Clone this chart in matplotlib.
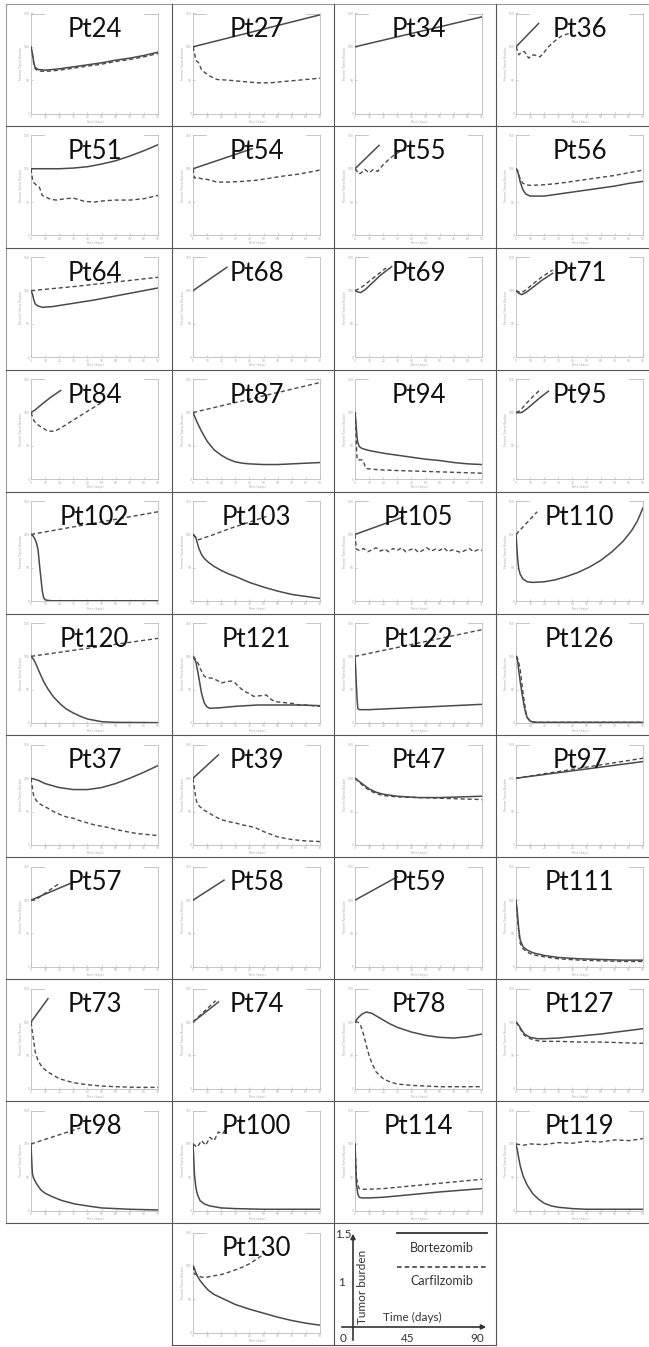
import matplotlib.pyplot as plt

W, H = 649, 1347

# each curve: [time (days)], [percent tumor burden]
pt24_bort = [[0, 1, 2, 3, 5, 10, 20, 30, 40, 50, 60, 70, 80, 90],
             [100, 90, 76, 69, 66, 65, 67, 70, 73, 76, 80, 83, 87, 92]]
pt24_carf = [[0, 1, 2, 3, 5, 10, 20, 30, 40, 50, 60, 70, 80, 90],
             [100, 88, 74, 67, 64, 63, 65, 68, 71, 74, 78, 81, 85, 90]]
pt27_bort = [[0, 90], [100, 148]]
pt27_carf = [[0, 1, 2, 4, 6, 8, 12, 17, 25, 35, 46, 55, 64, 75, 90],
             [100, 92, 80, 76, 66, 62, 56, 51, 50, 48, 46, 46, 48, 50, 53]]
pt34_bort = [[0, 90], [100, 145]]
pt34_carf = None
pt36_bort = [[0, 16], [100, 135]]
pt36_carf = [[0, 2, 4, 6, 9, 11, 13, 15, 17, 20, 23, 27, 32, 36, 39],
             [100, 88, 92, 93, 83, 87, 88, 86, 85, 92, 100, 108, 116, 119, 121]]

pt51_bort = [[0, 20, 30, 40, 50, 60, 70, 80, 90],
             [100, 100, 101, 103, 107, 112, 119, 127, 136]]
pt51_carf = [[0, 1, 2, 4, 6, 8, 10, 14, 18, 24, 30, 38, 45, 52, 60, 70, 80, 90],
             [100, 85, 79, 75, 72, 60, 58, 54, 53, 55, 56, 51, 50, 52, 53, 53, 55, 60]]
pt54_bort = [[0, 42], [100, 130]]
pt54_carf = [[0, 1, 3, 6, 10, 17, 25, 35, 46, 55, 64, 75, 90],
             [100, 86, 87, 85, 84, 80, 80, 81, 83, 86, 89, 92, 98]]
pt55_bort = [[0, 17], [100, 135]]
pt55_carf = [[0, 3, 5, 7, 10, 13, 16, 20, 24, 28, 32, 36],
             [100, 92, 95, 99, 94, 99, 96, 106, 114, 121, 126, 128]]
pt56_bort = [[0, 1, 2, 3, 5, 7, 10, 20, 30, 40, 50, 60, 70, 80, 90],
             [100, 97, 90, 80, 68, 62, 59, 59, 62, 65, 68, 71, 74, 78, 81]]
pt56_carf = [[0, 1, 2, 3, 5, 7, 10, 20, 30, 40, 50, 60, 70, 80, 90],
             [100, 97, 91, 84, 78, 76, 75, 76, 78, 81, 84, 87, 90, 94, 98]]

pt64_bort = [[0, 1, 2, 3, 5, 8, 15, 30, 45, 60, 75, 90],
             [100, 95, 86, 80, 77, 75, 76, 81, 86, 92, 98, 104]]
pt64_carf = [[0, 30, 60, 90], [100, 106, 113, 120]]
pt68_bort = [[0, 24], [100, 135]]
pt68_carf = None
pt69_bort = [[0, 2, 4, 7, 12, 18, 26], [100, 98, 97, 101, 111, 123, 136]]
pt69_carf = [[0, 4, 10, 16, 22], [100, 104, 114, 124, 134]]
pt71_bort = [[0, 2, 4, 7, 12, 18, 26], [100, 96, 94, 97, 105, 115, 126]]
pt71_carf = [[0, 2, 4, 7, 12, 18, 26], [100, 98, 97, 101, 110, 120, 131]]

pt84_bort = [[0, 3, 8, 14, 21], [100, 104, 113, 123, 133]]
pt84_carf = [[0, 2, 4, 6, 9, 12, 17, 22, 28, 34, 40, 47, 50],
             [100, 88, 83, 80, 76, 72, 72, 78, 86, 94, 102, 111, 115]]
pt87_bort = [[0, 3, 6, 10, 15, 20, 25, 30, 35, 40, 50, 60, 70, 80, 90],
             [100, 85, 72, 57, 44, 36, 30, 26, 24, 23, 22, 22, 23, 24, 25]]
pt87_carf = [[0, 90], [100, 145]]
pt94_bort = [[0, 0.5, 1, 1.5, 2, 3, 5, 10, 20, 30, 40, 50, 60, 70, 80, 90],
             [100, 90, 75, 62, 55, 49, 46, 43, 39, 36, 33, 30, 28, 25, 23, 22]]
pt94_carf = [[0, 0.5, 1, 1.5, 5, 6, 7, 8, 12, 18, 30, 45, 60, 75, 90],
             [100, 80, 50, 29, 29, 27, 20, 16, 15, 14, 13, 12, 11, 10, 9]]
pt95_bort = [[0, 4, 8, 13, 18, 23], [100, 100, 106, 115, 124, 132]]
pt95_carf = [[0, 3, 7, 12, 17], [100, 103, 113, 124, 134]]

pt102_bort = [[0, 1, 2, 3, 4, 5, 6, 7, 8, 9, 10, 12, 15, 90],
              [100, 99, 96, 92, 86, 77, 55, 35, 15, 5, 2, 1, 0.5, 0.5]]
pt102_carf = [[0, 90], [100, 134]]
pt103_bort = [[0, 2, 4, 6, 8, 11, 15, 20, 25, 30, 40, 50, 60, 70, 80, 90],
              [100, 95, 80, 70, 64, 58, 52, 46, 41, 37, 28, 21, 15, 10, 7, 4]]
pt103_carf = [[0, 2, 4, 8, 15, 25, 35, 45, 52], [100, 96, 92, 95, 100, 108, 115, 122, 127]]
pt105_bort = [[0, 34], [100, 126]]
pt105_carf = [[0, 1, 3, 6, 9, 12, 15, 18, 21, 24, 27, 30, 33, 36, 39, 42,
               45, 48, 51, 54, 57, 60, 63, 66, 69, 72, 75, 78, 81, 84, 87, 90],
              [100, 78, 76, 79, 74, 77, 80, 75, 78, 74, 79, 76, 80, 74, 77, 79,
               73, 76, 80, 75, 78, 76, 80, 74, 77, 75, 73, 76, 79, 74, 77, 76]]
pt110_bort = [[0, 0.5, 1, 1.5, 2, 3, 5, 8, 12, 20, 28, 36, 44, 52, 60, 68, 76, 82, 86, 90],
              [100, 85, 68, 56, 48, 40, 33, 29, 28, 29, 32, 37, 43, 51, 61, 74, 90, 106, 120, 140]]
pt110_carf = [[0, 15], [100, 134]]

pt120_bort = [[0, 2, 4, 6, 9, 12, 16, 21, 25, 30, 35, 40, 50, 60, 90],
              [100, 95, 86, 76, 62, 51, 39, 28, 21, 15, 10, 6, 2, 1, 0.5]]
pt120_carf = [[0, 90], [100, 127]]
pt121_bort = [[0, 2, 4, 6, 8, 10, 12, 20, 30, 46, 60, 75, 90],
              [100, 92, 70, 45, 30, 24, 22, 23, 25, 27, 27, 27, 26]]
pt121_carf = [[0, 2, 4, 5, 8, 10, 14, 17, 20, 24, 27, 30, 32, 35, 37, 40, 43,
               48, 52, 55, 58, 63, 67, 72, 75, 80, 90],
              [100, 95, 88, 82, 70, 68, 67, 64, 60, 62, 63, 60, 55, 50, 47, 44, 40,
               41, 42, 36, 32, 31, 30, 29, 27, 27, 25]]
pt122_bort = [[0, 0.5, 1, 1.5, 2, 3, 10, 30, 50, 70, 90],
              [100, 80, 55, 35, 22, 20, 20, 22, 24, 26, 28]]
pt122_carf = [[0, 90], [100, 140]]
pt126_bort = [[0, 1, 2, 3, 4, 5, 6, 7, 8, 10, 12, 15, 90],
              [100, 95, 78, 62, 48, 35, 23, 14, 8, 3, 1.5, 1, 1]]
pt126_carf = [[0, 1, 2, 3, 4, 5, 6, 7, 8, 10, 12, 15, 90],
              [100, 98, 90, 80, 62, 45, 30, 17, 8, 3, 1.5, 1, 1]]

pt37_bort = [[0, 5, 10, 20, 30, 40, 50, 60, 70, 80, 90],
             [100, 97, 92, 86, 83, 83, 86, 92, 100, 109, 119]]
pt37_carf = [[0, 1, 2, 4, 6, 9, 12, 16, 20, 25, 30, 35, 40, 45, 50, 55, 60, 65, 70, 75, 80, 85, 90],
             [100, 85, 72, 66, 62, 58, 55, 50, 46, 42, 40, 36, 33, 30, 28, 26, 23, 21, 19, 17, 16, 15, 14]]
pt39_bort = [[0, 18], [100, 135]]
pt39_carf = [[0, 1, 2, 3, 5, 8, 12, 16, 20, 25, 30, 35, 40, 45, 50, 55, 60, 70, 80, 90],
             [100, 85, 70, 62, 57, 52, 47, 42, 38, 35, 33, 30, 28, 25, 20, 16, 12, 8, 6, 5]]
pt47_bort = [[0, 5, 10, 15, 20, 30, 45, 60, 75, 90], [100, 92, 84, 79, 76, 73, 71, 71, 72, 73]]
pt47_carf = [[0, 5, 10, 15, 20, 30, 45, 60, 75, 90], [100, 90, 82, 77, 74, 72, 71, 70, 69, 68]]
pt97_bort = [[0, 90], [100, 125]]
pt97_carf = [[0, 90], [100, 130]]

pt57_bort = [[0, 30], [100, 127]]
pt57_carf = [[0, 3, 20], [100, 100, 125]]
pt58_bort = [[0, 22], [100, 130]]
pt58_carf = None
pt59_bort = [[0, 30], [100, 135]]
pt59_carf = None
pt111_bort = [[0, 1, 2, 3, 5, 8, 12, 20, 30, 45, 60, 75, 90],
              [100, 80, 55, 40, 30, 25, 21, 17, 14, 12, 11, 10, 10]]
pt111_carf = [[0, 1, 2, 3, 5, 8, 12, 20, 30, 45, 60, 75, 90],
              [100, 75, 50, 35, 27, 22, 18, 15, 12, 10, 9, 8, 8]]

pt73_bort = [[0, 12], [100, 135]]
pt73_carf = [[0, 1, 2, 3, 5, 8, 12, 16, 20, 25, 30, 40, 50, 60, 75, 90],
             [100, 85, 70, 55, 42, 32, 25, 20, 15, 12, 9, 6, 4, 3, 2, 2]]
pt74_bort = [[0, 18], [100, 130]]
pt74_carf = [[0, 16], [100, 132]]
pt78_bort = [[0, 2, 5, 8, 12, 16, 20, 25, 30, 40, 50, 60, 70, 80, 90],
             [100, 106, 112, 115, 113, 108, 103, 97, 92, 85, 80, 77, 76, 78, 82]]
pt78_carf = [[0, 2, 4, 6, 8, 10, 12, 15, 20, 25, 30, 40, 50, 60, 90],
             [100, 100, 95, 82, 65, 50, 38, 25, 15, 10, 7, 5, 4, 3, 3]]
pt127_bort = [[0, 2, 4, 6, 10, 15, 20, 30, 45, 60, 75, 90],
              [100, 95, 88, 82, 77, 75, 75, 76, 79, 82, 86, 90]]
pt127_carf = [[0, 2, 4, 6, 10, 15, 20, 30, 45, 60, 75, 90],
              [100, 94, 86, 80, 75, 72, 71, 71, 70, 70, 69, 68]]

pt98_bort = [[0, 0.5, 1, 2, 4, 7, 10, 16, 22, 31, 40, 50, 70, 90],
             [100, 75, 55, 48, 40, 31, 26, 20, 15, 10, 7, 4, 2, 1]]
pt98_carf = [[0, 35], [100, 124]]
pt100_bort = [[0, 0.5, 1, 2, 3, 5, 8, 12, 20, 30, 50, 90],
              [100, 80, 55, 35, 25, 15, 10, 7, 4, 3, 2, 2]]
pt100_carf = [[0, 3, 6, 9, 12, 15, 18, 21, 25], [100, 95, 105, 98, 110, 105, 118, 115, 128]]
pt114_bort = [[0, 0.5, 1, 2, 3, 5, 10, 20, 40, 60, 90],
              [100, 70, 40, 25, 20, 19, 19, 20, 24, 28, 33]]
pt114_carf = [[0, 0.5, 1, 2, 3, 5, 10, 20, 40, 60, 90],
              [100, 75, 50, 38, 33, 32, 32, 33, 37, 41, 47]]
pt119_bort = [[0, 1, 2, 3, 5, 8, 12, 16, 20, 25, 30, 40, 50, 90],
              [100, 90, 78, 67, 52, 38, 25, 17, 11, 7, 5, 3, 2, 2]]
pt119_carf = [[0, 5, 10, 20, 30, 40, 50, 60, 70, 80, 90],
              [100, 98, 100, 99, 102, 101, 104, 103, 106, 105, 108]]

pt130_bort = [[0, 1, 2, 3, 5, 8, 11, 15, 20, 25, 30, 40, 50, 60, 70, 80, 90],
              [100, 96, 90, 85, 78, 70, 63, 57, 52, 47, 42, 35, 29, 23, 18, 14, 11]]
pt130_carf = [[0, 1, 3, 6, 10, 14, 18, 22, 26, 30, 35, 40, 45, 50],
              [100, 88, 86, 83, 83, 85, 86, 88, 91, 94, 98, 103, 110, 117]]

grid = [
    [("Pt24", pt24_bort, pt24_carf), ("Pt27", pt27_bort, pt27_carf),
     ("Pt34", pt34_bort, pt34_carf), ("Pt36", pt36_bort, pt36_carf)],
    [("Pt51", pt51_bort, pt51_carf), ("Pt54", pt54_bort, pt54_carf),
     ("Pt55", pt55_bort, pt55_carf), ("Pt56", pt56_bort, pt56_carf)],
    [("Pt64", pt64_bort, pt64_carf), ("Pt68", pt68_bort, pt68_carf),
     ("Pt69", pt69_bort, pt69_carf), ("Pt71", pt71_bort, pt71_carf)],
    [("Pt84", pt84_bort, pt84_carf), ("Pt87", pt87_bort, pt87_carf),
     ("Pt94", pt94_bort, pt94_carf), ("Pt95", pt95_bort, pt95_carf)],
    [("Pt102", pt102_bort, pt102_carf), ("Pt103", pt103_bort, pt103_carf),
     ("Pt105", pt105_bort, pt105_carf), ("Pt110", pt110_bort, pt110_carf)],
    [("Pt120", pt120_bort, pt120_carf), ("Pt121", pt121_bort, pt121_carf),
     ("Pt122", pt122_bort, pt122_carf), ("Pt126", pt126_bort, pt126_carf)],
    [("Pt37", pt37_bort, pt37_carf), ("Pt39", pt39_bort, pt39_carf),
     ("Pt47", pt47_bort, pt47_carf), ("Pt97", pt97_bort, pt97_carf)],
    [("Pt57", pt57_bort, pt57_carf), ("Pt58", pt58_bort, pt58_carf),
     ("Pt59", pt59_bort, pt59_carf), ("Pt111", pt111_bort, pt111_carf)],
    [("Pt73", pt73_bort, pt73_carf), ("Pt74", pt74_bort, pt74_carf),
     ("Pt78", pt78_bort, pt78_carf), ("Pt127", pt127_bort, pt127_carf)],
    [("Pt98", pt98_bort, pt98_carf), ("Pt100", pt100_bort, pt100_carf),
     ("Pt114", pt114_bort, pt114_carf), ("Pt119", pt119_bort, pt119_carf)],
    [None, ("Pt130", pt130_bort, pt130_carf), None, None],
]

# pixel layout
col_sep = [6, 172, 334, 496, 662]
ax_left = [31, 193, 355, 516]
ax_w = 127
row_top0 = 4
row_h = 121.9
ax_off = 9.5
ax_h = 100

spine_c = "#bdbdbd"
label_c = "#a8a8a8"
line_c = "#4a4a4a"

fig = plt.figure(figsize=(W / 100, H / 100), dpi=100)
bg = fig.add_axes([0, 0, 1, 1])
bg.set_xlim(0, W)
bg.set_ylim(H, 0)
bg.axis("off")

n_full = 10
grid_bottom = row_top0 + row_h * n_full
# outer light border
bg.plot([col_sep[0], W], [row_top0, row_top0], color="#9a9a9a", lw=0.8)
bg.plot([col_sep[0], col_sep[0]], [row_top0, grid_bottom], color="#9a9a9a", lw=0.8)
for k in range(1, n_full + 1):
    y = row_top0 + row_h * k
    bg.plot([col_sep[0], W], [y, y], color="#555555", lw=0.8)
for x in col_sep[1:4]:
    bg.plot([x, x], [row_top0, grid_bottom], color="#555555", lw=0.8)
# bottom row boxes
last_bot = H - 2
for x in col_sep[1:4]:
    bg.plot([x, x], [grid_bottom, last_bot], color="#555555", lw=0.8)
bg.plot([col_sep[1], col_sep[3]], [last_bot, last_bot], color="#555555", lw=0.8)


def draw_panel(left, top, name, bort, carf):
    ax = fig.add_axes([left / W, 1 - (top + ax_h) / H, ax_w / W, ax_h / H])
    ax.set_xlim(0, 90)
    ax.set_ylim(0, 150)
    ax.patch.set_alpha(0)
    for s in ["left", "bottom", "right"]:
        ax.spines[s].set_color(spine_c)
        ax.spines[s].set_linewidth(0.6)
    ax.spines["top"].set_visible(False)
    for seg in ([0, 0.1], [0.89, 1]):
        ax.plot(seg, [1, 1], transform=ax.transAxes, color=spine_c, lw=0.6, clip_on=False)
    ax.set_xticks(range(0, 91, 10))
    ax.set_yticks([0, 50, 100, 150])
    ax.tick_params(labelsize=2.2, colors=label_c, length=1.5, width=0.4,
                   direction="in", pad=1)
    ax.set_xlabel("Time (days)", fontsize=2.2, color=label_c, labelpad=0.5)
    ax.set_ylabel("Percent Tumor Burden", fontsize=2.2, color=label_c, labelpad=0.5)
    if carf is not None:
        ax.plot(carf[0], carf[1], color=line_c, lw=1.0, ls=(0, (3, 2)), zorder=3)
    if bort is not None:
        ax.plot(bort[0], bort[1], color=line_c, lw=1.1, zorder=3)
    ax.text(0.5, 0.765, name, transform=ax.transAxes, ha="center", va="baseline",
            fontsize=18.5, family="Lato", color="#111111", zorder=4)


for r, row in enumerate(grid):
    for c, cell in enumerate(row):
        if cell is None:
            continue
        top = row_top0 + row_h * r + ax_off
        draw_panel(ax_left[c], top, *cell)

# legend panel (bottom row, third column)
txt = dict(family="Lato", color="#333333", fontsize=8.5)
bg.annotate("", xy=(353, 1231), xytext=(353, 1343),
            arrowprops=dict(arrowstyle="-|>", color="#333333", lw=1.2, mutation_scale=7))
bg.annotate("", xy=(489, 1327), xytext=(339, 1327),
            arrowprops=dict(arrowstyle="-|>", color="#333333", lw=1.2, mutation_scale=7))
bg.text(335, 1234, "1.5", ha="left", va="center", **txt)
bg.text(338, 1283, "1", ha="left", va="center", **txt)
bg.text(340, 1338, "0", ha="left", va="center", **txt)
bg.text(408, 1338, "45", ha="center", va="center", **txt)
bg.text(477, 1339, "90", ha="center", va="center", **txt)
bg.text(363, 1287, "Tumor burden", rotation=90, ha="center", va="center", **txt)
bg.text(412, 1317, "Time (days)", ha="center", va="center", **txt)
bg.plot([397, 487], [1233, 1233], color="#333333", lw=1.3)
bg.text(442, 1248, "Bortezomib", ha="center", va="center",
        family="Lato", color="#333333", fontsize=9)
bg.plot([397, 487], [1267, 1267], color="#333333", lw=1.1, ls=(0, (3, 2)))
bg.text(442, 1281, "Carfilzomib", ha="center", va="center",
        family="Lato", color="#333333", fontsize=9)

fig.savefig("out.png", dpi=100)
